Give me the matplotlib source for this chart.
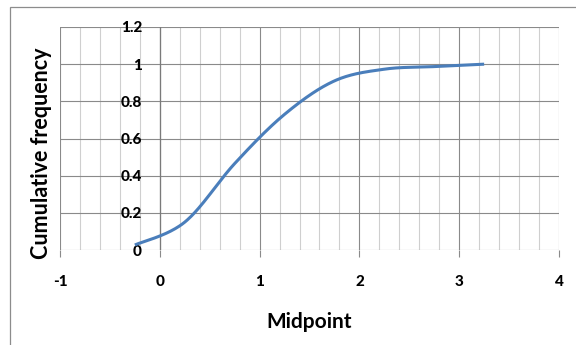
import numpy as np
import matplotlib
matplotlib.use("Agg")
import matplotlib.pyplot as plt
from matplotlib.patches import Rectangle
from matplotlib.ticker import MultipleLocator, FuncFormatter

plt.rcParams["font.family"] = ["Lato", "DejaVu Sans"]
plt.rcParams["axes.unicode_minus"] = False

# data
midpoint = [-0.25, 0.25, 0.75, 1.25, 1.75, 2.25, 2.75, 3.25]
cum_freq = [0.027, 0.15, 0.465, 0.73, 0.91, 0.973, 0.987, 1.0]
x_ticks = [-1, 0, 1, 2, 3, 4]
y_ticks = [0, 0.2, 0.4, 0.6, 0.8, 1, 1.2]


def smooth(xs, ys, n=40):
    # Excel-like smoothed line: cubic Bezier through points, tangents from neighbours
    p = np.column_stack([xs, ys])
    ext = np.vstack([p[0], p, p[-1]])
    out = []
    for i in range(len(p) - 1):
        p0, p1, p2, p3 = ext[i], ext[i + 1], ext[i + 2], ext[i + 3]
        c1 = p1 + (p2 - p0) / 6
        c2 = p2 - (p3 - p1) / 6
        t = np.linspace(0, 1, n)[:, None]
        seg = ((1 - t) ** 3) * p1 + 3 * ((1 - t) ** 2) * t * c1 + 3 * (1 - t) * t ** 2 * c2 + t ** 3 * p2
        out.append(seg if i == 0 else seg[1:])
    s = np.vstack(out)
    return s[:, 0], s[:, 1]


fig = plt.figure(figsize=(5.76, 3.45), dpi=100)
fig.patches.append(Rectangle((10 / 576, -0.2), 1.2, 1 - 7 / 345 + 0.2, transform=fig.transFigure,
                             fill=False, ec="#8c8c8c", lw=0.9))
ax = fig.add_axes([60 / 576, 1 - 250 / 345, (559 - 60) / 576, (250 - 27) / 345])

ax.set_xlim(-1, 4)
ax.set_ylim(0, 1.2)
ax.xaxis.set_minor_locator(MultipleLocator(0.2))
ax.set_xticks(x_ticks)
ax.set_yticks(y_ticks)
ax.grid(which="major", axis="both", color="#8a8a8a", lw=0.8)
ax.grid(which="minor", axis="x", color="#cfcfcf", lw=0.8)
ax.set_axisbelow(True)
for s in ax.spines.values():
    s.set_visible(False)
ax.axvline(0, color="#7a7a7a", lw=0.9, zorder=1.5)

ax.tick_params(axis="x", which="major", length=5, color="#8a8a8a", width=0.8, pad=13,
               labelsize=11)
ax.tick_params(axis="x", which="minor", length=0)
ax.tick_params(axis="y", length=0, pad=-59, labelsize=11)
ax.yaxis.set_major_formatter(FuncFormatter(lambda v, _: f"{v:g}"))
for lab in ax.get_xticklabels() + ax.get_yticklabels():
    lab.set_fontweight("black")

sx, sy = smooth(midpoint, cum_freq)
ax.plot(sx, sy, color="#4a7ebb", lw=2.2, solid_capstyle="butt", zorder=3)

fig.text(309 / 576, 1 - 328 / 345, "Midpoint", ha="center", va="baseline",
         fontsize=15, fontweight="bold")
fig.text(42 / 576, 1 - 153 / 345, "Cumulative frequency", rotation=90, ha="center", va="center",
         fontsize=15.5, fontweight="bold")

fig.savefig("out.png", dpi=100)
